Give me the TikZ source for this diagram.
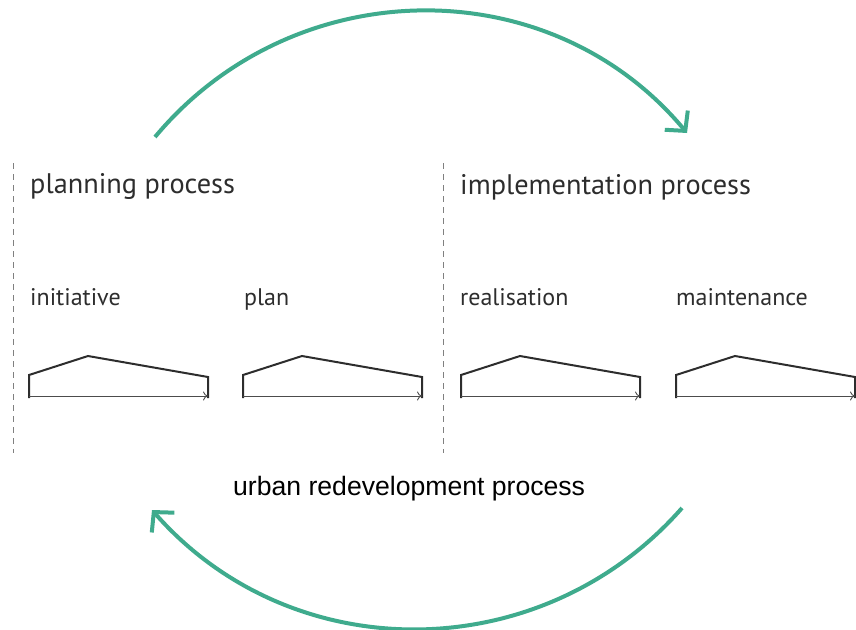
\documentclass[tikz,border=0pt]{standalone}
\usepackage{fontspec}
\setmainfont{PT Sans}
\newfontfamily\arialfont{Liberation Sans}
\usetikzlibrary{arrows.meta,positioning}
\definecolor{cyclegreen}{RGB}{63,171,141}
\definecolor{textgrey}{RGB}{45,45,45}

\begin{document}
\begin{tikzpicture}[x=1pt,y=-1pt,
	phase/.style={anchor=base west, inner sep=0pt, text=textgrey, font=\fontsize{24}{28}\selectfont},
	process/.style={phase, font=\fontsize{28.3}{33}\selectfont},
	cycle/.style={cyclegreen, line width=4pt, -{Straight Barb[length=14pt,width=30pt]}},
	divider/.style={gray, line width=0.8pt, dash pattern=on 6pt off 5pt},
	roof/.style={textgrey, line width=2pt},
	timeline/.style={gray!60!black, line width=0.9pt, -{To[length=5pt,width=9pt]}}]
	\useasboundingbox (0,0) rectangle (856,629);
	% Draw the titles
	\node[process] (planning) at (30,193) {planning process};
	\node[process] (implementation) at (460,194) {implementation process};
	\node[phase] (initiative) at (30,305) {initiative};
	\node[phase] (plan) at (244,305) {plan};
	\node[phase] (realisation) at (460,305) {realisation};
	\node[phase] (maintenance) at (676,305) {maintenance};
	\node[anchor=base west, inner sep=0pt, font=\arialfont\fontsize{26.6}{30}\selectfont] (urban) at (233,495) {urban redevelopment process};
	% Draw the dividers
	\coordinate (divA top) at (13,163);
	\coordinate (divA bottom) at (13,453);
	\coordinate (divB top) at (443,163);
	\coordinate (divB bottom) at (443,453);
	\draw[divider] (divA top) -- (divA bottom);
	\draw[divider] (divB top) -- (divB bottom);
	% Draw the phases
	\foreach \x [count=\i] in {29,243,461,676} {
		\coordinate (start\i) at (\x,396);
		\coordinate (end\i) at (\x+179,396);
		\draw[roof] (\x,398) -- (\x,375) -- (\x+59,356) -- (\x+179,377) -- (\x+179,398);
		\draw[timeline] (start\i) -- (end\i);
	}
	% Connect the cycle with arrows
	\coordinate (top start) at (155,137);
	\coordinate (top end) at (687,133);
	\coordinate (bottom start) at (682,508);
	\coordinate (bottom end) at (152,510);
	\draw[cycle] (top start) .. controls (293,-28.5) and (549,-32.5) .. (top end);
	\draw[cycle] (bottom start) .. controls (541.5,668) and (292.5,670) .. (bottom end);
\end{tikzpicture}
\end{document}
